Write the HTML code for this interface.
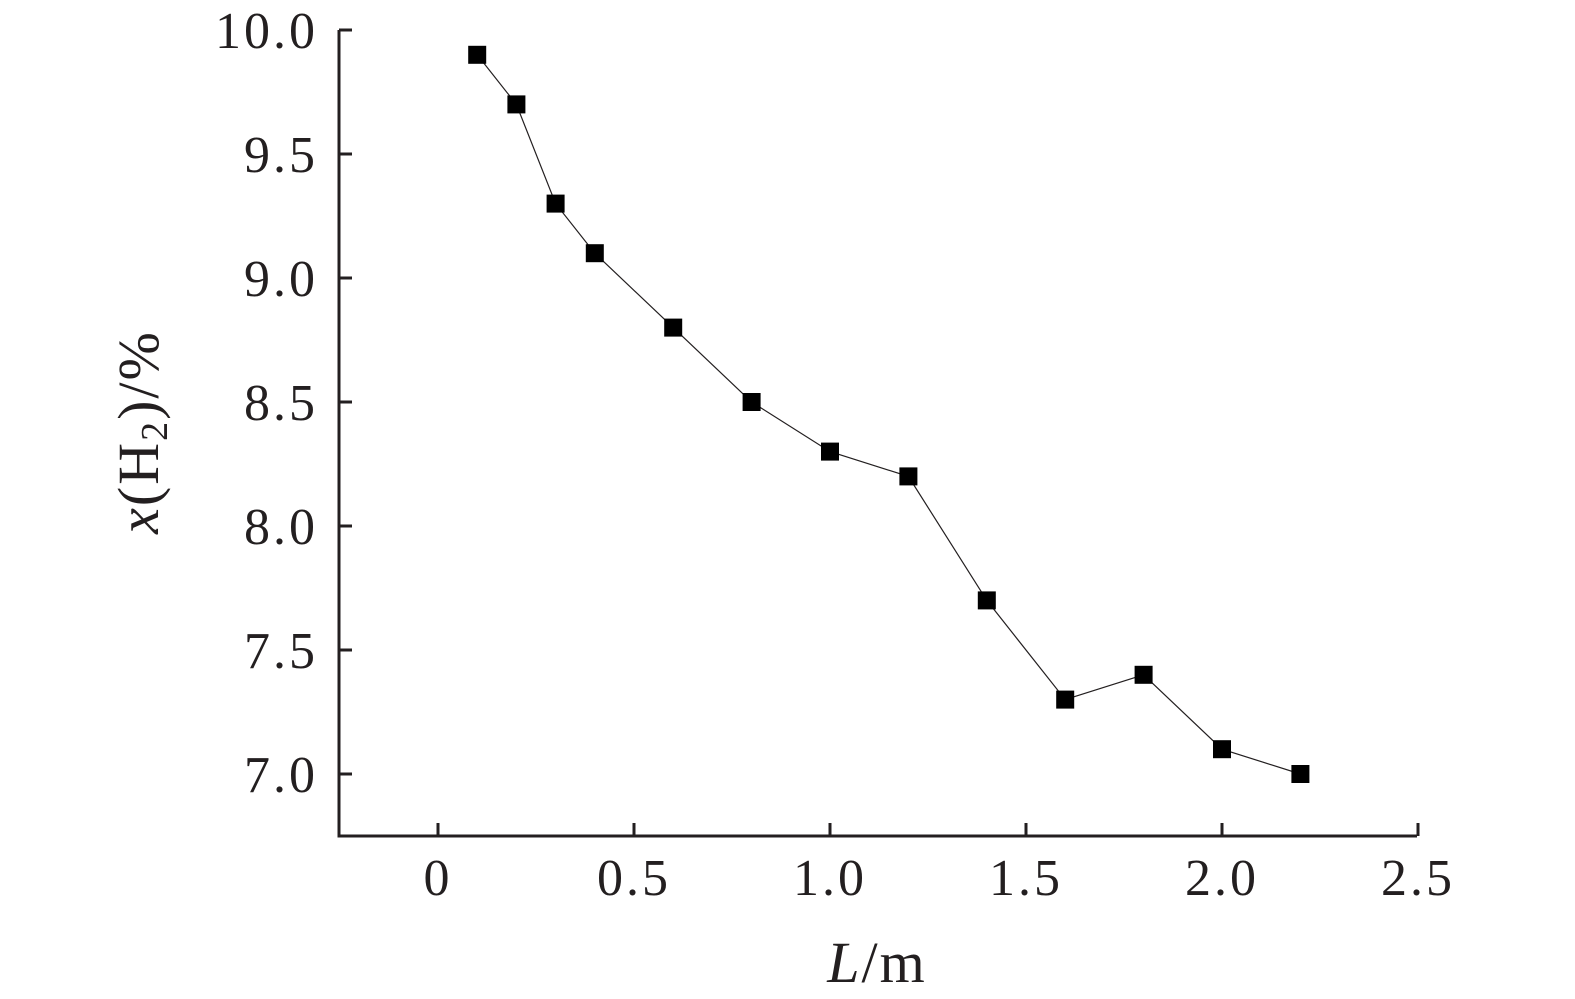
<!DOCTYPE html>
<html><head><meta charset="utf-8"><style>
html,body{margin:0;padding:0;background:#fff;}
svg{display:block;}
text{font-family:"Liberation Serif",serif;fill:#231f20;}
</style></head><body>
<svg id="chart" width="1575" height="999" viewBox="0 0 1575 999" xmlns="http://www.w3.org/2000/svg">
<g id="axes"></g>
<g id="series"></g>
<text transform="translate(158,432) rotate(-90)" text-anchor="middle" font-size="58" letter-spacing="2"><tspan font-style="italic">x</tspan>(H<tspan font-size="38" dy="9">2</tspan><tspan dy="-9">)/%</tspan></text>
<text x="877" y="982" text-anchor="middle" font-size="58" letter-spacing="2"><tspan font-style="italic">L</tspan>/m</text>
</svg>
<script>
const xValues = [0.1,0.2,0.3,0.4,0.6,0.8,1.0,1.2,1.4,1.6,1.8,2.0,2.2];
const yValues = [9.9,9.7,9.3,9.1,8.8,8.5,8.3,8.2,7.7,7.3,7.4,7.1,7.0];
const xTicks = [0,0.5,1.0,1.5,2.0,2.5];
const xTickLabels = ["0","0.5","1.0","1.5","2.0","2.5"];
const yTicks = [7.0,7.5,8.0,8.5,9.0,9.5,10.0];
const yTickLabels = ["7.0","7.5","8.0","8.5","9.0","9.5","10.0"];

const X0=339, X1=1417, Y0=836, Y1=30;
function sx(v){return 438 + v*392;}
function sy(v){return 30 + (10-v)*248;}
const NS="http://www.w3.org/2000/svg";
function mk(tag,attrs,parent){const e=document.createElementNS(NS,tag);for(const k in attrs)e.setAttribute(k,attrs[k]);parent.appendChild(e);return e;}
const axes=document.getElementById('axes');
const ser=document.getElementById('series');
const c="#231f20";
let l=mk('line',{x1:X0,y1:Y1,x2:X0,y2:Y0+1.5,stroke:c,'stroke-width':3},axes);


l=mk('line',{x1:X0-1.5,y1:Y0,x2:X1,y2:Y0,stroke:c,'stroke-width':3},axes);


xTicks.forEach((t,i)=>{
  const x=sx(t);
  const tk=mk('line',{x1:x,y1:Y0,x2:x,y2:Y0-13,stroke:c,'stroke-width':3},axes);
  
  
  const tx=mk('text',{x:x,y:895,'text-anchor':'middle','font-size':52,'letter-spacing':3},axes);
  tx.textContent=xTickLabels[i];
  
  
});
yTicks.forEach((t,i)=>{
  const y=sy(t);
  const tk=mk('line',{x1:X0,y1:y,x2:X0+13,y2:y,stroke:c,'stroke-width':3},axes);
  
  
  const tx=mk('text',{x:318,y:y+18,'text-anchor':'end','font-size':52,'letter-spacing':3},axes);
  tx.textContent=yTickLabels[i];
  
  
});
const pts=xValues.map((v,i)=>sx(v)+','+sy(yValues[i])).join(' ');
const pl=mk('polyline',{points:pts,fill:'none',stroke:c,'stroke-width':1.2},ser);


xValues.forEach((v,i)=>{
  const s=18;
  const r=mk('rect',{x:sx(v)-s/2,y:sy(yValues[i])-s/2,width:s,height:s,fill:'#000'},ser);
  
  
});
</script>
</body></html>
